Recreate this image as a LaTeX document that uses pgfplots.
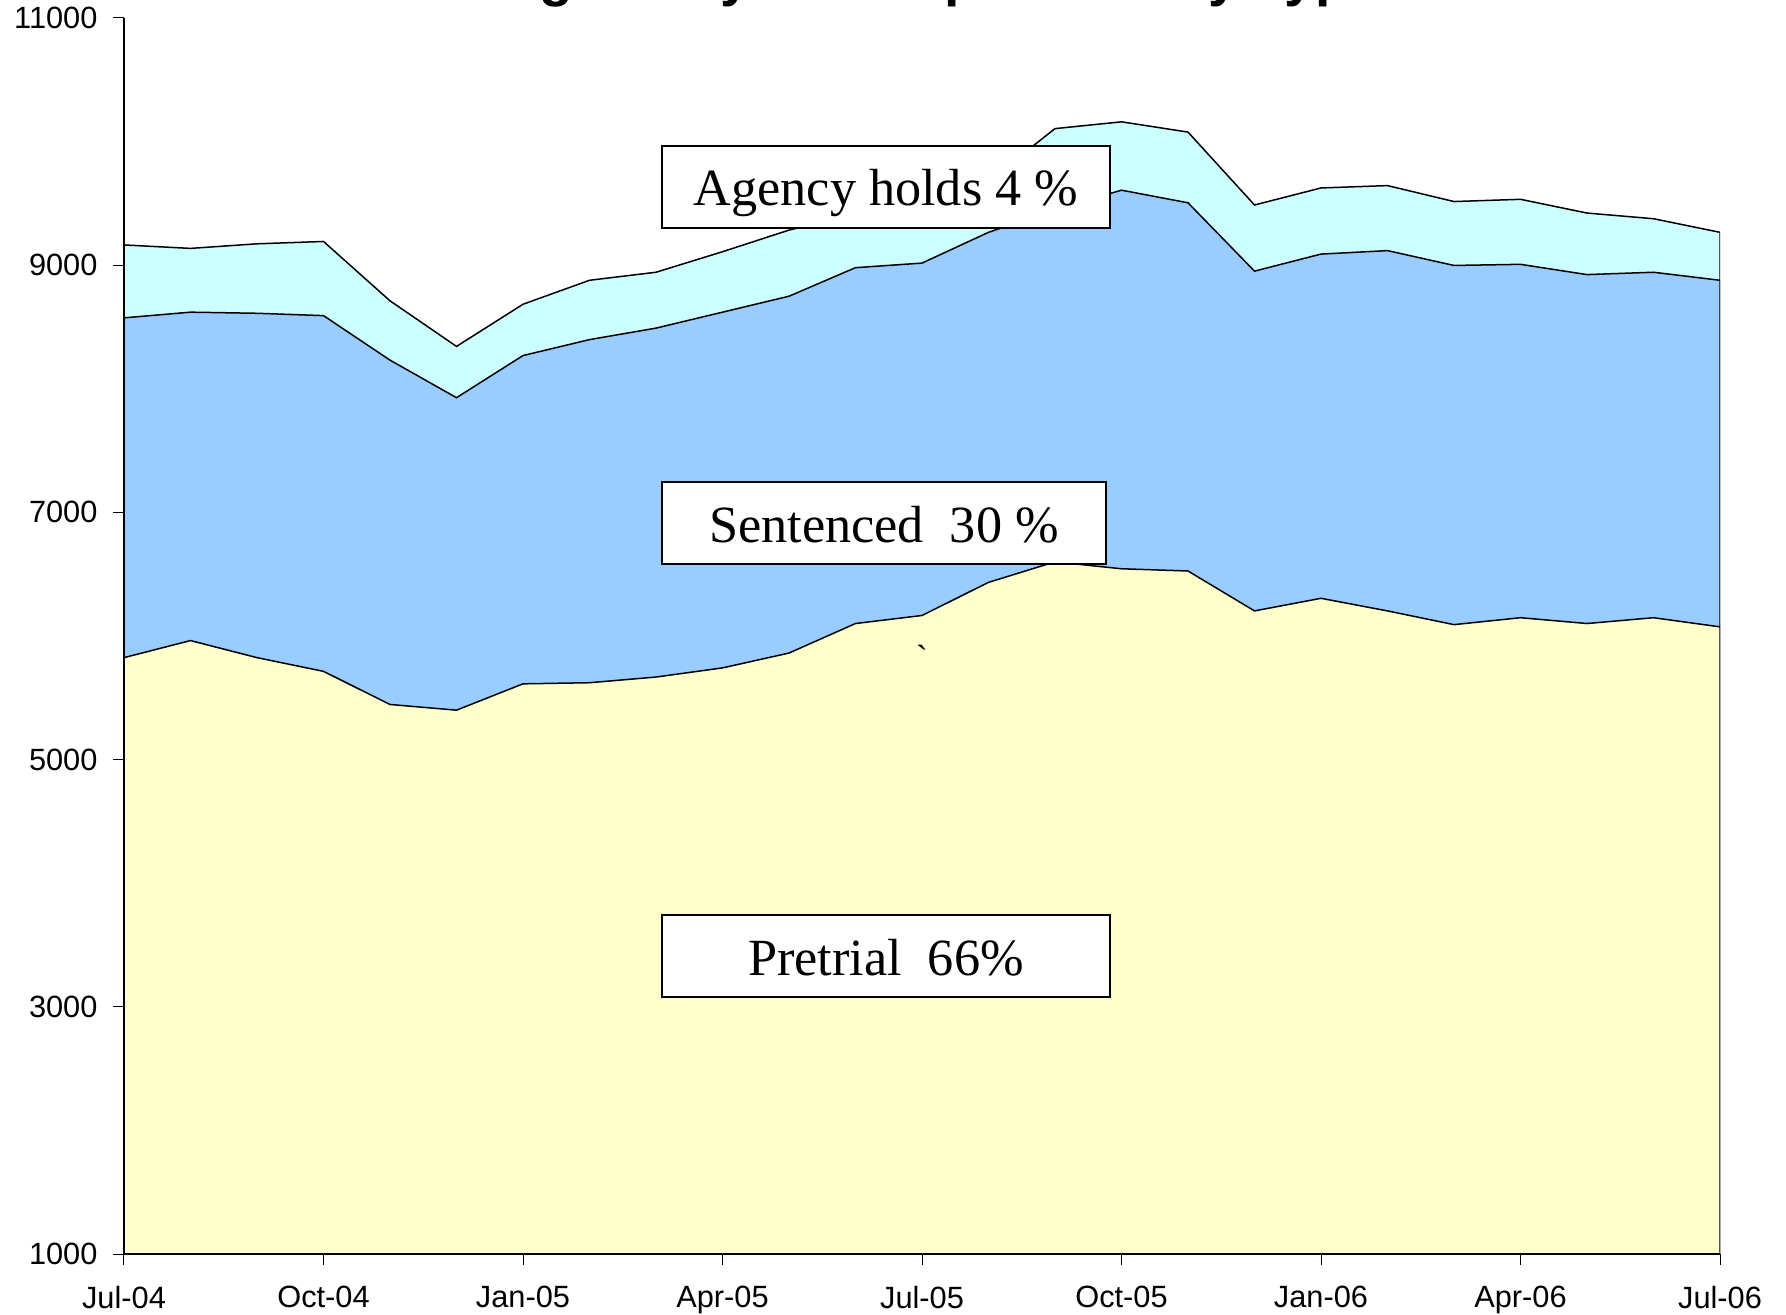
\documentclass[border=0pt]{standalone}
\usepackage{pgfplots}
\pgfplotsset{compat=1.18}
\usepackage{pgfplotstable}
\usepackage{fontspec}
\setmainfont{Liberation Sans}
\newfontfamily\timesfont{Liberation Serif}

\definecolor{pretrialc}{HTML}{FFFFCC}
\definecolor{sentc}{HTML}{99CCFF}
\definecolor{agencyc}{HTML}{CCFFFF}

% cumulative tops of the stacked areas
\pgfplotstableread{
idx total sent pre
0 9164 8574 5825
1 9136 8620 5963
2 9173 8611 5825
3 9192 8592 5714
4 8712 8232 5446
5 8343 7928 5400
6 8684 8269 5613
7 8878 8398 5622
8 8943 8491 5668
9 9109 8620 5742
10 9284 8749 5862
11 9416 8980 6101
12 9549 9017 6166
13 9681 9266 6434
14 10105 9450 6600
15 10160 9607 6544
16 10077 9505 6526
17 9487 8952 6203
18 9625 9090 6305
19 9644 9118 6203
20 9515 8998 6092
21 9533 9007 6148
22 9422 8924 6101
23 9376 8943 6148
24 9266 8878 6074
}\datatable

\begin{document}
\begin{tikzpicture}
\begin{axis}[
  at={(0,0)}, anchor=south west,
  scale only axis, width=638.4pt, height=494.4pt,
  xmin=0, xmax=24, ymin=1000, ymax=11000,
  axis x line=bottom, axis y line=left,
  axis line style={-, black, line width=0.5pt},
  axis on top,
  xtick={0,3,...,24},
  xticklabels={Jul-04,Oct-04,Jan-05,Apr-05,Jul-05,Oct-05,Jan-06,Apr-06,Jul-06},
  ytick={1000,3000,5000,7000,9000,11000},
  scaled y ticks=false,
  /pgf/number format/1000 sep={},
  /pgf/number format/assume math mode=true,
  tick align=outside, major tick length=4.4pt,
  tick style={black, line width=0.4pt},
  ticklabel style={font=\fontsize{12.3}{14}\selectfont},
  yticklabel style={xshift=-2.7pt},
  xticklabel style={yshift=-4.9pt},
]
\addplot[draw=black, line width=0.6pt, fill=agencyc] table[x=idx,y=total]{\datatable} \closedcycle;
\addplot[draw=black, line width=0.6pt, fill=sentc] table[x=idx,y=sent]{\datatable} \closedcycle;
\addplot[draw=black, line width=0.6pt, fill=pretrialc] table[x=idx,y=pre]{\datatable} \closedcycle;

\node[draw=black, fill=white, line width=0.6pt, inner sep=0pt,
      minimum width=179.2pt, minimum height=32.8pt,
      font=\timesfont\fontsize{20.9}{24}\selectfont]
      at (rel axis cs:0.4774,0.8633) {\raisebox{-2.4pt}[\height][\depth]{Agency holds 4 \%}};
\node[draw=black, fill=white, line width=0.6pt, inner sep=0pt,
      minimum width=177.6pt, minimum height=32.8pt,
      font=\timesfont\fontsize{20.9}{24}\selectfont]
      at (rel axis cs:0.4762,0.5914) {\raisebox{-0.8pt}[\height][\depth]{Sentenced~~30 \%}};
\node[draw=black, fill=white, line width=0.6pt, inner sep=0pt,
      minimum width=179.2pt, minimum height=32.8pt,
      font=\timesfont\fontsize{20.9}{24}\selectfont]
      at (rel axis cs:0.4774,0.2411) {\raisebox{-0.8pt}[\height][\depth]{Pretrial~~66\%}};
\node[font=\timesfont\fontsize{14}{16}\selectfont, inner sep=0pt]
      at (rel axis cs:0.5,0.4830) {\textasciigrave};
\end{axis}
\node[anchor=base west, inner sep=0pt, font=\bfseries\fontsize{22.1}{26}\selectfont]
  at (105.4pt,503.4pt) {Average Daily Jail Population by Type};
\pgfresetboundingbox
\useasboundingbox (-49.6pt,-24pt) rectangle (664.8pt,501.6pt);
\end{tikzpicture}
\end{document}
